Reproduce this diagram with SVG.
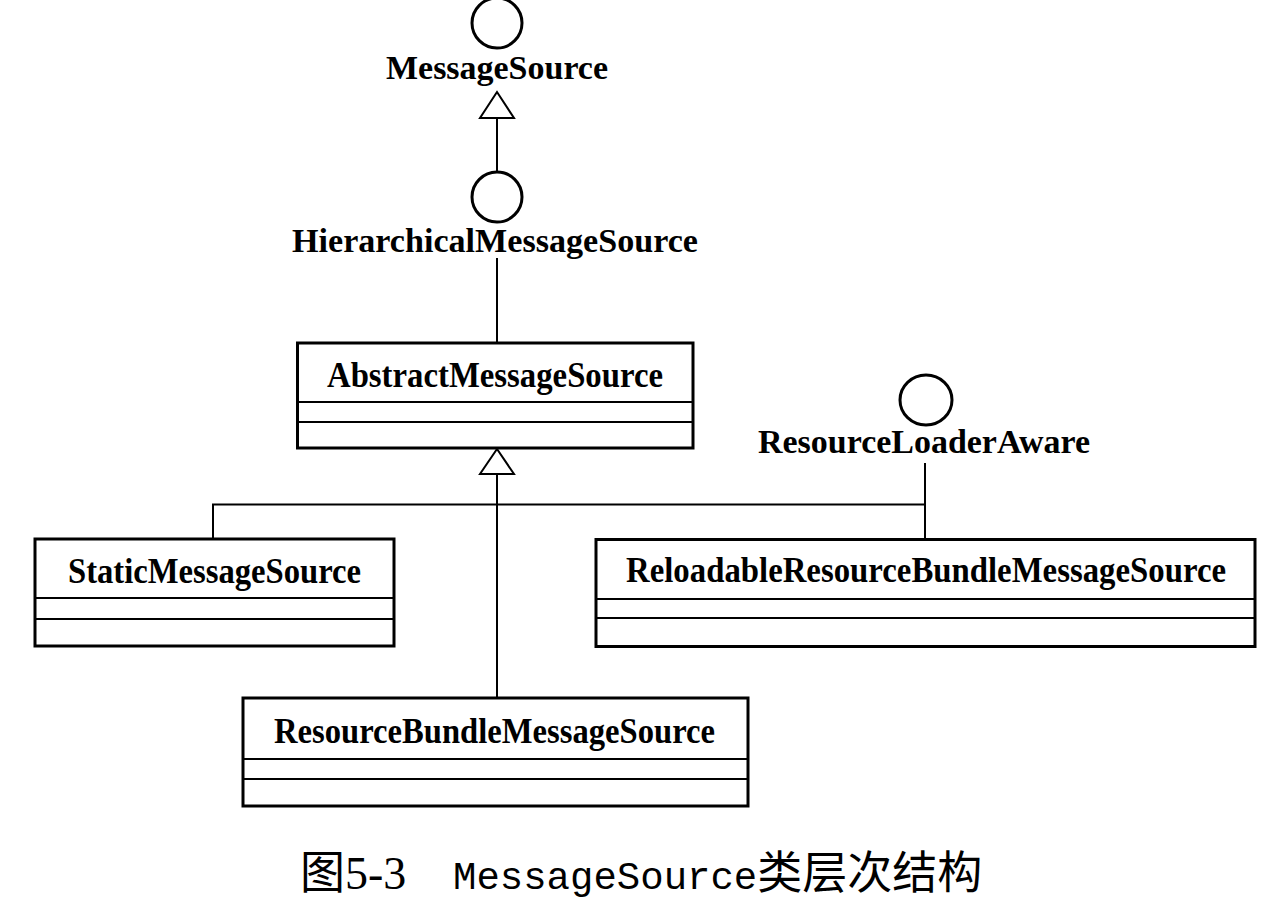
<svg xmlns="http://www.w3.org/2000/svg" width="1276" height="910" viewBox="0 0 1276 910">
  <style>
    .box { fill: #ffffff; stroke: #000000; stroke-width: 3; }
    .div { stroke: #000000; stroke-width: 2; }
    .iface { fill: #ffffff; stroke: #000000; stroke-width: 3; }
    .conn { fill: none; stroke: #000000; stroke-width: 2; }
    .tri { fill: #ffffff; stroke: #000000; stroke-width: 2; }
    .lbl { font-family: "Liberation Serif", "Times New Roman", serif; font-weight: bold; font-size: 34px; fill: #000000; text-anchor: middle; }
    .cls { font-family: "Liberation Serif", "Times New Roman", serif; font-weight: bold; font-size: 35px; fill: #000000; text-anchor: middle; }
    .cap { fill: #000000; font-family: "Liberation Serif", "Noto Sans CJK SC", serif; }
    .cjk { font-family: "Noto Sans CJK SC", sans-serif; font-size: 45px; }
    .num { font-family: "Liberation Serif", serif; font-size: 46px; }
    .mono { font-family: "Liberation Mono", "Courier New", monospace; font-size: 39px; }
  </style>
  <rect width="1276" height="910" fill="#ffffff"/>

  <g id="connectors">
    <line class="conn" x1="497" y1="118" x2="497" y2="172"/>
    <polygon class="tri" points="497,92 480,118 514,118"/>
    <line class="conn" x1="497" y1="258" x2="497" y2="343"/>
    <line class="conn" x1="497" y1="474" x2="497" y2="698"/>
    <polygon class="tri" points="497,449 480,474 514,474"/>
    <polyline class="conn" points="213,539 213,504.5 926,504.5"/>
    <line class="conn" x1="925" y1="463" x2="925" y2="539"/>
  </g>

  <g id="MessageSource">
    <circle class="iface" cx="497" cy="23" r="25"/>
    <text class="lbl" x="497" y="79" textLength="222" lengthAdjust="spacingAndGlyphs">MessageSource</text>
  </g>

  <g id="HierarchicalMessageSource">
    <circle class="iface" cx="497" cy="197" r="25"/>
    <text class="lbl" x="495" y="252" textLength="406" lengthAdjust="spacingAndGlyphs">HierarchicalMessageSource</text>
  </g>

  <g id="ResourceLoaderAware">
    <ellipse class="iface" cx="926" cy="400" rx="26" ry="25"/>
    <text class="lbl" x="924" y="453" textLength="332" lengthAdjust="spacingAndGlyphs">ResourceLoaderAware</text>
  </g>

  <g id="AbstractMessageSource">
    <rect class="box" x="297.5" y="343" width="395.5" height="105"/>
    <line class="div" x1="297.5" y1="402" x2="693" y2="402"/>
    <line class="div" x1="297.5" y1="422" x2="693" y2="422"/>
    <text class="cls" x="495" y="387" textLength="336" lengthAdjust="spacingAndGlyphs">AbstractMessageSource</text>
  </g>

  <g id="StaticMessageSource">
    <rect class="box" x="35" y="539" width="359" height="107"/>
    <line class="div" x1="35" y1="598" x2="394" y2="598"/>
    <line class="div" x1="35" y1="619" x2="394" y2="619"/>
    <text class="cls" x="214.5" y="583" textLength="293" lengthAdjust="spacingAndGlyphs">StaticMessageSource</text>
  </g>

  <g id="ReloadableResourceBundleMessageSource">
    <rect class="box" x="596" y="539.5" width="659" height="107"/>
    <line class="div" x1="596" y1="599" x2="1255" y2="599"/>
    <line class="div" x1="596" y1="618" x2="1255" y2="618"/>
    <text class="cls" x="926" y="582" textLength="600" lengthAdjust="spacingAndGlyphs">ReloadableResourceBundleMessageSource</text>
  </g>

  <g id="ResourceBundleMessageSource">
    <rect class="box" x="243" y="698" width="505" height="108"/>
    <line class="div" x1="243" y1="759" x2="748" y2="759"/>
    <line class="div" x1="243" y1="779" x2="748" y2="779"/>
    <text class="cls" x="494.5" y="743" textLength="441" lengthAdjust="spacingAndGlyphs">ResourceBundleMessageSource</text>
  </g>

  <g id="caption">
    <text class="cap" y="889"><tspan class="cjk" x="300">图</tspan><tspan class="num">5-3</tspan><tspan class="mono" x="453">MessageSource</tspan><tspan class="cjk">类层次结构</tspan></text>
  </g>
</svg>
